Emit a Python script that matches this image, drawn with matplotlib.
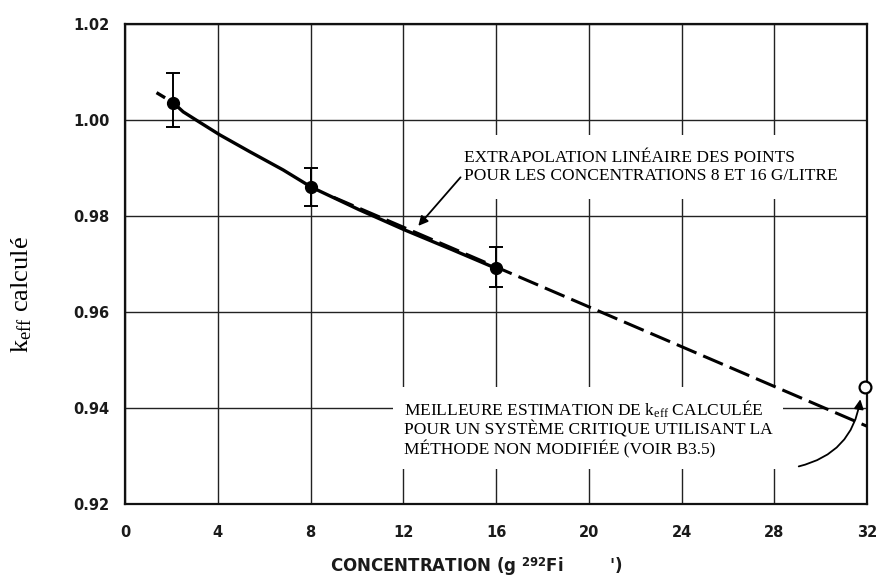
import numpy as np
import matplotlib
matplotlib.use("Agg")
import matplotlib.pyplot as plt

plt.rcParams['mathtext.fontset'] = 'custom'
plt.rcParams['mathtext.rm'] = 'Liberation Serif'
plt.rcParams['mathtext.it'] = 'Liberation Serif:italic'
plt.rcParams['mathtext.bf'] = 'DejaVu Sans:bold'

# measured points with error bars
conc     = [2.08, 8.04, 16.0]
keff     = [1.0036, 0.9860, 0.9691]
err_low  = [0.0051, 0.0039, 0.0038]
err_high = [0.0062, 0.0040, 0.0044]

# best estimate for critical system
best_x = [31.9]
best_y = [0.9444]

# fitted curve
curve_x = [2.08, 2.51, 3.23, 4.09, 5.38, 6.82, 8.04, 10.1, 12.06, 14.1, 16.0]
curve_y = [1.0036, 1.0017, 0.9995, 0.9969, 0.9934, 0.9896, 0.9860,
           0.9813, 0.9771, 0.9730, 0.9691]
curve_start_x = [1.36, 2.08]
curve_start_y = [1.0057, 1.0036]

# linear extrapolation through 8 and 16 g/l
lin_x = [9.0, 32.0]
lin_y = [0.9839, 0.9362]

xticks = [0, 4, 8, 12, 16, 20, 24, 28, 32]
yticks = [0.92, 0.94, 0.96, 0.98, 1.00, 1.02]
ytick_labels = ['0.92', '0.94', '0.96', '0.98', '1.00', '1.02']

fg = plt.figure(figsize=(8.8, 5.79), dpi=100)
ax = fg.add_axes([125/880., 1-504/579., (867-125)/880., (504-24)/579.])

ax.set_xlim(0, 32)
ax.set_ylim(0.92, 1.02)
ax.set_xticks(xticks)
ax.set_yticks(yticks)
ax.set_yticklabels(ytick_labels)
ax.grid(True, color='#222222', lw=1.0, zorder=1)
ax.set_axisbelow(True)
ax.tick_params(length=0, labelsize=10.5)
ax.tick_params(axis='x', pad=15)
ax.tick_params(axis='y', pad=11)
for lb in ax.get_xticklabels() + ax.get_yticklabels():
    lb.set_fontweight('bold')
    lb.set_color('#1a1a1a')
for sp in ax.spines.values():
    sp.set_linewidth(1.6)
    sp.set_color('#111111')

ax.plot(curve_x, curve_y, color='black', lw=2.4, zorder=5,
        solid_joinstyle='round')
ax.plot(curve_start_x, curve_start_y, color='black', lw=2.4, zorder=5,
        dashes=(3, 2))
ax.plot(lin_x, lin_y, color='black', lw=2.2, zorder=5, dashes=(7, 2.4))

ax.errorbar(conc, keff, yerr=[err_low, err_high], fmt='o', color='black',
            ms=8.5, capsize=4.7, elinewidth=1.4, capthick=1.4, zorder=6)
ax.plot(best_x, best_y, 'o', mfc='white', mec='black', mew=1.6, ms=8.5,
        zorder=7, clip_on=False)

# annotations
ax.text(14.64, 0.9902,
        "EXTRAPOLATION LINÉAIRE DES POINTS\nPOUR LES CONCENTRATIONS 8 ET 16 G/LITRE",
        family='Liberation Serif', fontsize=12.5, ha='left', va='center',
        linespacing=1.15, zorder=3,
        bbox=dict(facecolor='white', edgecolor='none', pad=11))
ax.annotate("", xy=(12.57, 0.9775), xytext=(14.55, 0.9885),
            arrowprops=dict(arrowstyle='-|>', color='black', lw=1.3,
                            mutation_scale=14), zorder=8)

ax.text(12.02, 0.9358,
        "MEILLEURE ESTIMATION DE k$_{\\mathrm{eff}}$ CALCULÉE\n"
        "POUR UN SYSTÈME CRITIQUE UTILISANT LA\n"
        "MÉTHODE NON MODIFIÉE (VOIR B3.5)",
        family='Liberation Serif', fontsize=12.5, ha='left', va='center',
        linespacing=1.12, zorder=3,
        bbox=dict(facecolor='white', edgecolor='none', pad=8))
ax.annotate("", xy=(31.73, 0.9424), xytext=(28.94, 0.9277),
            arrowprops=dict(arrowstyle='-|>', color='black', lw=1.3,
                            mutation_scale=14,
                            connectionstyle='arc3,rad=0.35'), zorder=8)

fg.text(330/880., 1-567/579., "CONCENTRATION (g $^{\\mathbf{292}}$Fi        ')",
        fontsize=12, fontweight='bold', ha='left', va='center', color='#1a1a1a')
fg.text(22/880., 1-295/579., "k$_{\\mathrm{eff}}$ calculé", family='Liberation Serif',
        fontsize=19, rotation=90, ha='center', va='center')

fg.savefig('out.png', dpi=100)
plt.close(fg)
